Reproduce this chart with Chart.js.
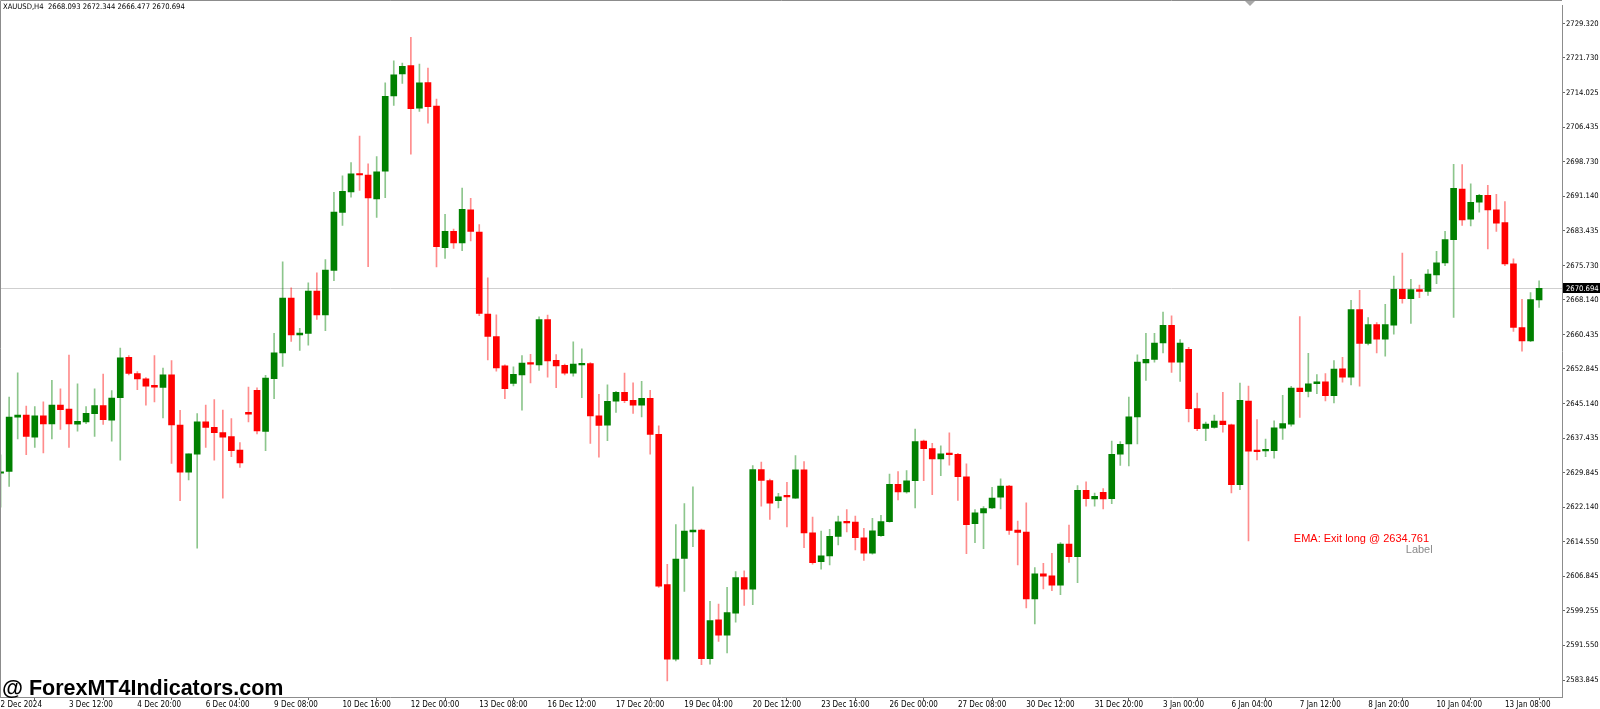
<!DOCTYPE html>
<html>
<head>
<meta charset="utf-8">
<title>XAUUSD,H4</title>
<script src="https://cdn.jsdelivr.net/npm/chart.js@4.4.1/dist/chart.umd.min.js"></script>
<style>
  html, body { margin: 0; padding: 0; background: #fff; overflow: hidden; }
</style>
</head>
<body>
<canvas id="chart" width="1600" height="709"></canvas>
<script>
// bar index 0 = 2 Dec 2024 04:00, one bar per 4 hours, a time label every 8 bars
const xTickLabels = [
  '2 Dec 2024', '3 Dec 12:00', '4 Dec 20:00', '6 Dec 04:00', '9 Dec 08:00', '10 Dec 16:00',
  '12 Dec 00:00', '13 Dec 08:00', '16 Dec 12:00', '17 Dec 20:00', '19 Dec 04:00', '20 Dec 12:00',
  '23 Dec 16:00', '26 Dec 00:00', '27 Dec 08:00', '30 Dec 12:00', '31 Dec 20:00', '3 Jan 00:00',
  '6 Jan 04:00', '7 Jan 12:00', '8 Jan 20:00', '10 Jan 04:00', '13 Jan 08:00'
];
const barsPerLabel = 8;

const yTickValues = [
  2729.320, 2721.730, 2714.025, 2706.435, 2698.730, 2691.140, 2683.435, 2675.730, 2668.140, 2660.435,
  2652.845, 2645.140, 2637.435, 2629.845, 2622.140, 2614.550, 2606.845, 2599.255, 2591.550, 2583.845
];

const opens = [
  2629.7, 2630.09, 2642.1, 2642.6, 2637.7, 2642.4, 2640.65, 2644.8, 2643.9, 2640.6,
  2641.1, 2642.93, 2644.7, 2641.46, 2646.45, 2655.4, 2651.8, 2650.6, 2649.17, 2648.7,
  2651.5, 2640.4, 2629.94, 2633.9, 2641.1, 2639.85, 2638.7, 2637.8, 2634.86, 2643.2,
  2648.07, 2638.97, 2650.64, 2656.36, 2668.5, 2660.33, 2660.7, 2670.09, 2664.8, 2674.64,
  2687.48, 2692.03, 2696.14, 2695.8, 2690.49, 2696.65, 2713.3, 2718.2, 2720.06, 2710.6,
  2716.3, 2711.1, 2679.7, 2683.3, 2680.73, 2688.07, 2683.15, 2665.0, 2660.0, 2653.5,
  2649.6, 2651.5, 2654.09, 2653.7, 2663.78, 2654.7, 2653.6, 2651.9, 2653.7, 2654.0,
  2642.4, 2640.37, 2645.65, 2647.63, 2645.87, 2644.77, 2646.3, 2638.3, 2605.0, 2588.5,
  2610.8, 2616.7, 2617.1, 2588.6, 2597.2, 2593.8, 2598.7, 2606.6, 2604.0, 2630.5,
  2628.1, 2623.64, 2624.74, 2624.2, 2630.46, 2616.5, 2610.1, 2611.4, 2615.7, 2619.0,
  2618.9, 2615.4, 2611.97, 2615.86, 2618.94, 2627.23, 2625.54, 2628.04, 2636.84, 2635.16,
  2632.88, 2634.05, 2633.9, 2628.92, 2618.5, 2620.92, 2622.02, 2624.37, 2626.86, 2617.1,
  2616.66, 2601.84, 2607.41, 2606.97, 2604.92, 2614.02, 2611.23, 2625.91, 2624.0, 2625.47,
  2624.07, 2633.91, 2636.18, 2642.2, 2654.16, 2654.9, 2658.57, 2662.46, 2654.31, 2657.17,
  2644.03, 2639.63, 2639.85, 2641.25, 2640.44, 2627.16, 2645.72, 2634.72, 2634.64, 2634.72,
  2639.7, 2640.59, 2648.59, 2647.85, 2649.54, 2649.98, 2646.9, 2652.84, 2651.0, 2665.97,
  2658.49, 2662.67, 2659.44, 2662.52, 2670.45, 2668.4, 2670.38, 2670.01, 2673.68, 2676.32,
  2681.46, 2692.69, 2686.01, 2689.75, 2691.29, 2688.06, 2685.27, 2676.1, 2662.01, 2659.0,
  2668.093
];

const highs = [
  2633.8, 2646.6, 2651.95, 2644.6, 2644.5, 2645.5, 2650.3, 2648.4, 2655.9, 2649.5,
  2644.5, 2648.4, 2651.66, 2648.0, 2657.46, 2655.8, 2652.25, 2650.9, 2655.8, 2653.0,
  2654.67, 2643.66, 2634.0, 2642.9, 2644.8, 2646.0, 2643.7, 2641.83, 2636.5, 2648.8,
  2648.65, 2651.4, 2660.7, 2676.55, 2670.8, 2661.8, 2671.9, 2674.1, 2677.06, 2691.96,
  2695.6, 2698.56, 2704.4, 2698.3, 2699.9, 2716.2, 2721.1, 2720.6, 2726.3, 2720.4,
  2719.5, 2712.65, 2687.1, 2683.8, 2692.9, 2690.6, 2684.8, 2673.0, 2664.8, 2653.7,
  2653.28, 2655.8, 2656.07, 2664.36, 2664.73, 2656.0, 2653.87, 2658.8, 2657.3, 2654.2,
  2647.2, 2649.3, 2647.85, 2651.89, 2649.76, 2650.05, 2648.07, 2640.2, 2609.5, 2618.35,
  2623.0, 2626.7, 2617.3, 2601.3, 2600.7, 2604.4, 2607.9, 2608.1, 2631.4, 2632.15,
  2628.4, 2625.25, 2627.7, 2633.6, 2632.3, 2620.0, 2616.9, 2617.25, 2620.2, 2621.65,
  2620.2, 2617.5, 2619.7, 2620.4, 2629.5, 2630.09, 2630.3, 2639.49, 2637.06, 2636.33,
  2635.8, 2638.68, 2634.1, 2631.78, 2621.65, 2622.3, 2626.57, 2628.48, 2627.0, 2619.08,
  2623.12, 2608.81, 2609.76, 2611.96, 2614.31, 2618.2, 2626.94, 2627.82, 2625.32, 2626.28,
  2636.84, 2636.7, 2646.6, 2655.92, 2660.69, 2660.69, 2665.39, 2664.58, 2659.3, 2657.61,
  2647.48, 2641.03, 2642.57, 2647.63, 2640.6, 2649.69, 2649.03, 2641.61, 2637.28, 2641.32,
  2646.97, 2648.95, 2664.44, 2656.29, 2651.59, 2651.81, 2654.67, 2655.4, 2668.03, 2670.23,
  2664.2, 2663.11, 2667.15, 2673.4, 2678.52, 2672.65, 2671.41, 2674.85, 2678.89, 2683.29,
  2698.19, 2698.12, 2693.86, 2691.51, 2693.5, 2691.51, 2689.9, 2677.2, 2668.25, 2669.72,
  2672.344
];

const lows = [
  2622.2, 2626.8, 2637.3, 2633.8, 2635.4, 2634.2, 2637.3, 2639.4, 2635.4, 2639.0,
  2640.7, 2637.87, 2640.5, 2636.8, 2632.6, 2651.5, 2648.2, 2644.8, 2645.5, 2641.98,
  2631.9, 2623.6, 2628.2, 2613.1, 2635.4, 2632.6, 2624.2, 2633.4, 2631.0, 2641.1,
  2638.4, 2634.7, 2646.2, 2653.4, 2658.9, 2656.9, 2658.1, 2663.8, 2661.28, 2672.4,
  2684.6, 2690.86, 2692.4, 2675.5, 2686.4, 2690.8, 2711.2, 2716.1, 2700.4, 2709.9,
  2707.3, 2675.4, 2677.3, 2679.5, 2679.0, 2681.2, 2664.6, 2654.8, 2652.3, 2646.24,
  2649.03, 2643.67, 2649.7, 2652.5, 2651.0, 2648.66, 2651.5, 2651.2, 2646.46, 2636.33,
  2633.25, 2636.92, 2643.2, 2645.36, 2642.94, 2642.2, 2633.9, 2604.4, 2583.7, 2588.1,
  2603.5, 2613.4, 2587.3, 2587.4, 2592.45, 2589.9, 2596.7, 2600.4, 2600.6, 2622.4,
  2619.45, 2622.0, 2617.8, 2624.1, 2613.2, 2609.55, 2608.45, 2609.4, 2613.8, 2616.7,
  2612.7, 2610.4, 2611.75, 2615.7, 2618.87, 2623.78, 2625.3, 2622.0, 2628.04, 2624.95,
  2629.14, 2631.49, 2623.7, 2611.9, 2614.31, 2612.99, 2621.87, 2621.8, 2616.15, 2609.4,
  2599.86, 2596.33, 2604.04, 2603.67, 2602.79, 2609.91, 2605.43, 2622.39, 2622.39, 2621.8,
  2622.97, 2631.41, 2631.34, 2636.18, 2650.27, 2654.31, 2656.37, 2652.03, 2650.05, 2641.1,
  2639.12, 2636.92, 2639.7, 2638.82, 2625.32, 2626.06, 2614.68, 2632.66, 2633.39, 2633.03,
  2637.21, 2640.15, 2642.05, 2646.6, 2647.34, 2645.72, 2645.3, 2649.9, 2649.3, 2649.0,
  2658.12, 2656.36, 2655.63, 2660.54, 2667.37, 2662.89, 2668.62, 2669.13, 2671.7, 2675.73,
  2664.21, 2684.61, 2684.54, 2687.55, 2679.4, 2683.29, 2675.73, 2661.13, 2656.73, 2658.86,
  2666.477
];

const closes = [
  2630.0, 2642.12, 2642.6, 2637.87, 2642.4, 2640.65, 2644.8, 2643.8, 2640.65, 2641.2,
  2643.0, 2644.7, 2641.6, 2646.38, 2655.26, 2651.8, 2650.6, 2649.0, 2648.8, 2651.5,
  2640.4, 2629.94, 2633.98, 2641.1, 2639.85, 2638.7, 2637.7, 2634.7, 2632.0, 2642.8,
  2639.1, 2650.78, 2656.36, 2668.5, 2660.33, 2660.77, 2670.09, 2664.8, 2674.7, 2687.6,
  2692.18, 2696.07, 2695.8, 2690.7, 2696.5, 2713.24, 2718.0, 2719.9, 2710.5, 2716.2,
  2710.96, 2679.9, 2683.3, 2680.73, 2688.2, 2683.3, 2665.1, 2660.04, 2653.06, 2648.44,
  2651.6, 2654.09, 2653.87, 2663.78, 2654.6, 2653.5, 2651.9, 2653.87, 2654.0, 2642.4,
  2640.3, 2645.65, 2647.63, 2645.8, 2644.77, 2646.3, 2638.3, 2604.7, 2588.5, 2610.7,
  2616.9, 2617.1, 2588.6, 2597.07, 2593.8, 2598.8, 2606.6, 2604.0, 2630.5, 2628.1,
  2623.05, 2624.5, 2624.45, 2630.46, 2616.5, 2609.9, 2611.4, 2615.7, 2618.94, 2618.7,
  2615.4, 2611.97, 2616.96, 2619.0, 2627.23, 2625.54, 2628.04, 2636.7, 2635.16, 2632.88,
  2633.98, 2633.83, 2628.92, 2618.28, 2620.92, 2621.87, 2624.22, 2626.86, 2617.03, 2616.59,
  2601.84, 2607.41, 2606.9, 2604.92, 2614.02, 2611.23, 2625.91, 2624.07, 2624.59, 2624.0,
  2633.91, 2636.11, 2642.2, 2654.31, 2654.97, 2658.57, 2662.46, 2654.31, 2658.57, 2644.03,
  2639.56, 2640.59, 2641.25, 2640.44, 2627.16, 2645.87, 2634.57, 2634.5, 2634.94, 2639.78,
  2640.73, 2648.59, 2647.78, 2649.54, 2649.98, 2646.9, 2652.77, 2651.0, 2665.97, 2658.49,
  2662.67, 2659.44, 2662.67, 2670.45, 2668.4, 2670.38, 2670.01, 2673.83, 2676.32, 2681.46,
  2692.83, 2685.86, 2689.75, 2691.29, 2688.06, 2685.13, 2676.1, 2662.01, 2659.0, 2668.18,
  2670.694
];

const symbolTitle = 'XAUUSD,H4';
const signalText = 'EMA: Exit long @ 2634.761';
const labelText = 'Label';
const watermarkText = '@ ForexMT4Indicators.com';

// text objects anchored in chart coordinates: [bar index, price]
const signalAnchor = [151.3, 2615.2];
const labelAnchor = [164.4, 2612.7];

const axisFont = "'DejaVu Sans Condensed', 'DejaVu Sans', sans-serif";
const upColor = '#008000';
const downColor = '#ff0000';
const upWick = 'rgba(0,128,0,0.45)';
const downWick = 'rgba(255,0,0,0.45)';

const isUp = opens.map((o, i) => closes[i] >= o);

const wickData = highs.map((h, i) => ({ x: i, y: [lows[i], h] }));
const bodyData = opens.map((o, i) => ({ x: i, y: [o, closes[i]] }));

const overlay = {
  id: 'overlay',
  beforeDatasetsDraw(chart) {
    const { ctx, chartArea: a, scales: { y } } = chart;
    const py = Math.round(y.getPixelForValue(closes[closes.length - 1])) + 0.5;
    ctx.save();
    ctx.strokeStyle = '#cfcfcf';
    ctx.lineWidth = 1;
    ctx.beginPath();
    ctx.moveTo(a.left, py);
    ctx.lineTo(a.right, py);
    ctx.stroke();
    ctx.restore();
  },
  afterDraw(chart) {
    const { ctx, chartArea: a, scales: { x, y } } = chart;
    const last = closes.length - 1;
    ctx.save();

    // frame on top and left
    ctx.strokeStyle = '#8c8c8c';
    ctx.lineWidth = 1;
    ctx.beginPath();
    ctx.moveTo(0.5, a.bottom);
    ctx.lineTo(0.5, 0.5);
    ctx.lineTo(a.right, 0.5);
    ctx.stroke();

    // chart shift marker
    ctx.fillStyle = '#a8a8a8';
    ctx.beginPath();
    ctx.moveTo(1245, 1);
    ctx.lineTo(1255, 1);
    ctx.lineTo(1250, 6);
    ctx.closePath();
    ctx.fill();

    // header
    ctx.fillStyle = '#000';
    ctx.font = '7.6px ' + axisFont;
    ctx.textAlign = 'left';
    ctx.textBaseline = 'middle';
    const head = symbolTitle + '  ' + [opens[last], highs[last], lows[last], closes[last]]
      .map(v => v.toFixed(3)).join(' ');
    ctx.fillText(head, 3, 7);

    // bid price box on the price scale
    const py = y.getPixelForValue(closes[last]);
    ctx.fillStyle = '#000';
    ctx.fillRect(a.right + 1, Math.round(py) - 5, chart.width - a.right - 1, 10);
    ctx.fillStyle = '#fff';
    ctx.fillText(closes[last].toFixed(3), a.right + 4, py + 0.5);

    // text objects
    ctx.font = '11px "Liberation Sans", Arial, sans-serif';
    ctx.fillStyle = '#ff0000';
    ctx.fillText(signalText, x.getPixelForValue(signalAnchor[0]), y.getPixelForValue(signalAnchor[1]));
    ctx.fillStyle = '#8a8a8a';
    ctx.fillText(labelText, x.getPixelForValue(labelAnchor[0]), y.getPixelForValue(labelAnchor[1]));

    // watermark
    ctx.font = 'bold 21.5px "Liberation Sans", Arial, sans-serif';
    ctx.fillStyle = '#000';
    ctx.textBaseline = 'alphabetic';
    ctx.fillText(watermarkText, 2, 695);

    ctx.restore();
  }
};

const ctx = document.getElementById('chart').getContext('2d');
const priceChart = new Chart(ctx, {
  type: 'bar',
  data: {
    datasets: [
      {
        label: 'wick',
        data: wickData,
        backgroundColor: isUp.map(u => u ? upWick : downWick),
        borderWidth: 0,
        grouped: false,
        barPercentage: 1,
        categoryPercentage: 1,
        maxBarThickness: 1,
        order: 2,
        clip: 0
      },
      {
        label: 'body',
        data: bodyData,
        backgroundColor: isUp.map(u => u ? upColor : downColor),
        borderWidth: 0,
        grouped: false,
        barPercentage: 1,
        categoryPercentage: 1,
        maxBarThickness: 6,
        minBarLength: 1.5,
        order: 1,
        clip: 0
      }
    ]
  },
  options: {
    responsive: false,
    animation: false,
    layout: { padding: { top: 1, left: 0, right: 0, bottom: 0 } },
    plugins: {
      legend: { display: false },
      tooltip: { enabled: false }
    },
    scales: {
      x: {
        type: 'linear',
        min: -0.07,
        max: 182.68,
        offset: false,
        grid: { drawOnChartArea: false, drawTicks: true, tickLength: 3, color: '#666' },
        border: { display: true, color: '#8c8c8c' },
        afterBuildTicks: scale => {
          scale.ticks = xTickLabels.map((_, k) => ({ value: k * barsPerLabel }));
        },
        afterFit: scale => { scale.height = 12; },
        ticks: {
          autoSkip: false,
          maxRotation: 0,
          align: 'start',
          padding: 0,
          color: '#000',
          font: { family: axisFont, size: 8 },
          callback: value => xTickLabels[Math.round(value / barsPerLabel)]
        }
      },
      y: {
        position: 'right',
        min: 2580.11,
        max: 2733.35,
        grid: { drawOnChartArea: false, drawTicks: true, tickLength: 3, color: '#666' },
        border: { display: true, color: '#8c8c8c' },
        afterBuildTicks: scale => {
          scale.ticks = yTickValues.map(v => ({ value: v }));
        },
        afterFit: scale => { scale.width = 38; },
        ticks: {
          autoSkip: false,
          padding: 1,
          color: '#000',
          font: { family: axisFont, size: 7.6 },
          callback: value => Number(value).toFixed(3)
        }
      }
    }
  },
  plugins: [overlay]
});
</script>
</body>
</html>
